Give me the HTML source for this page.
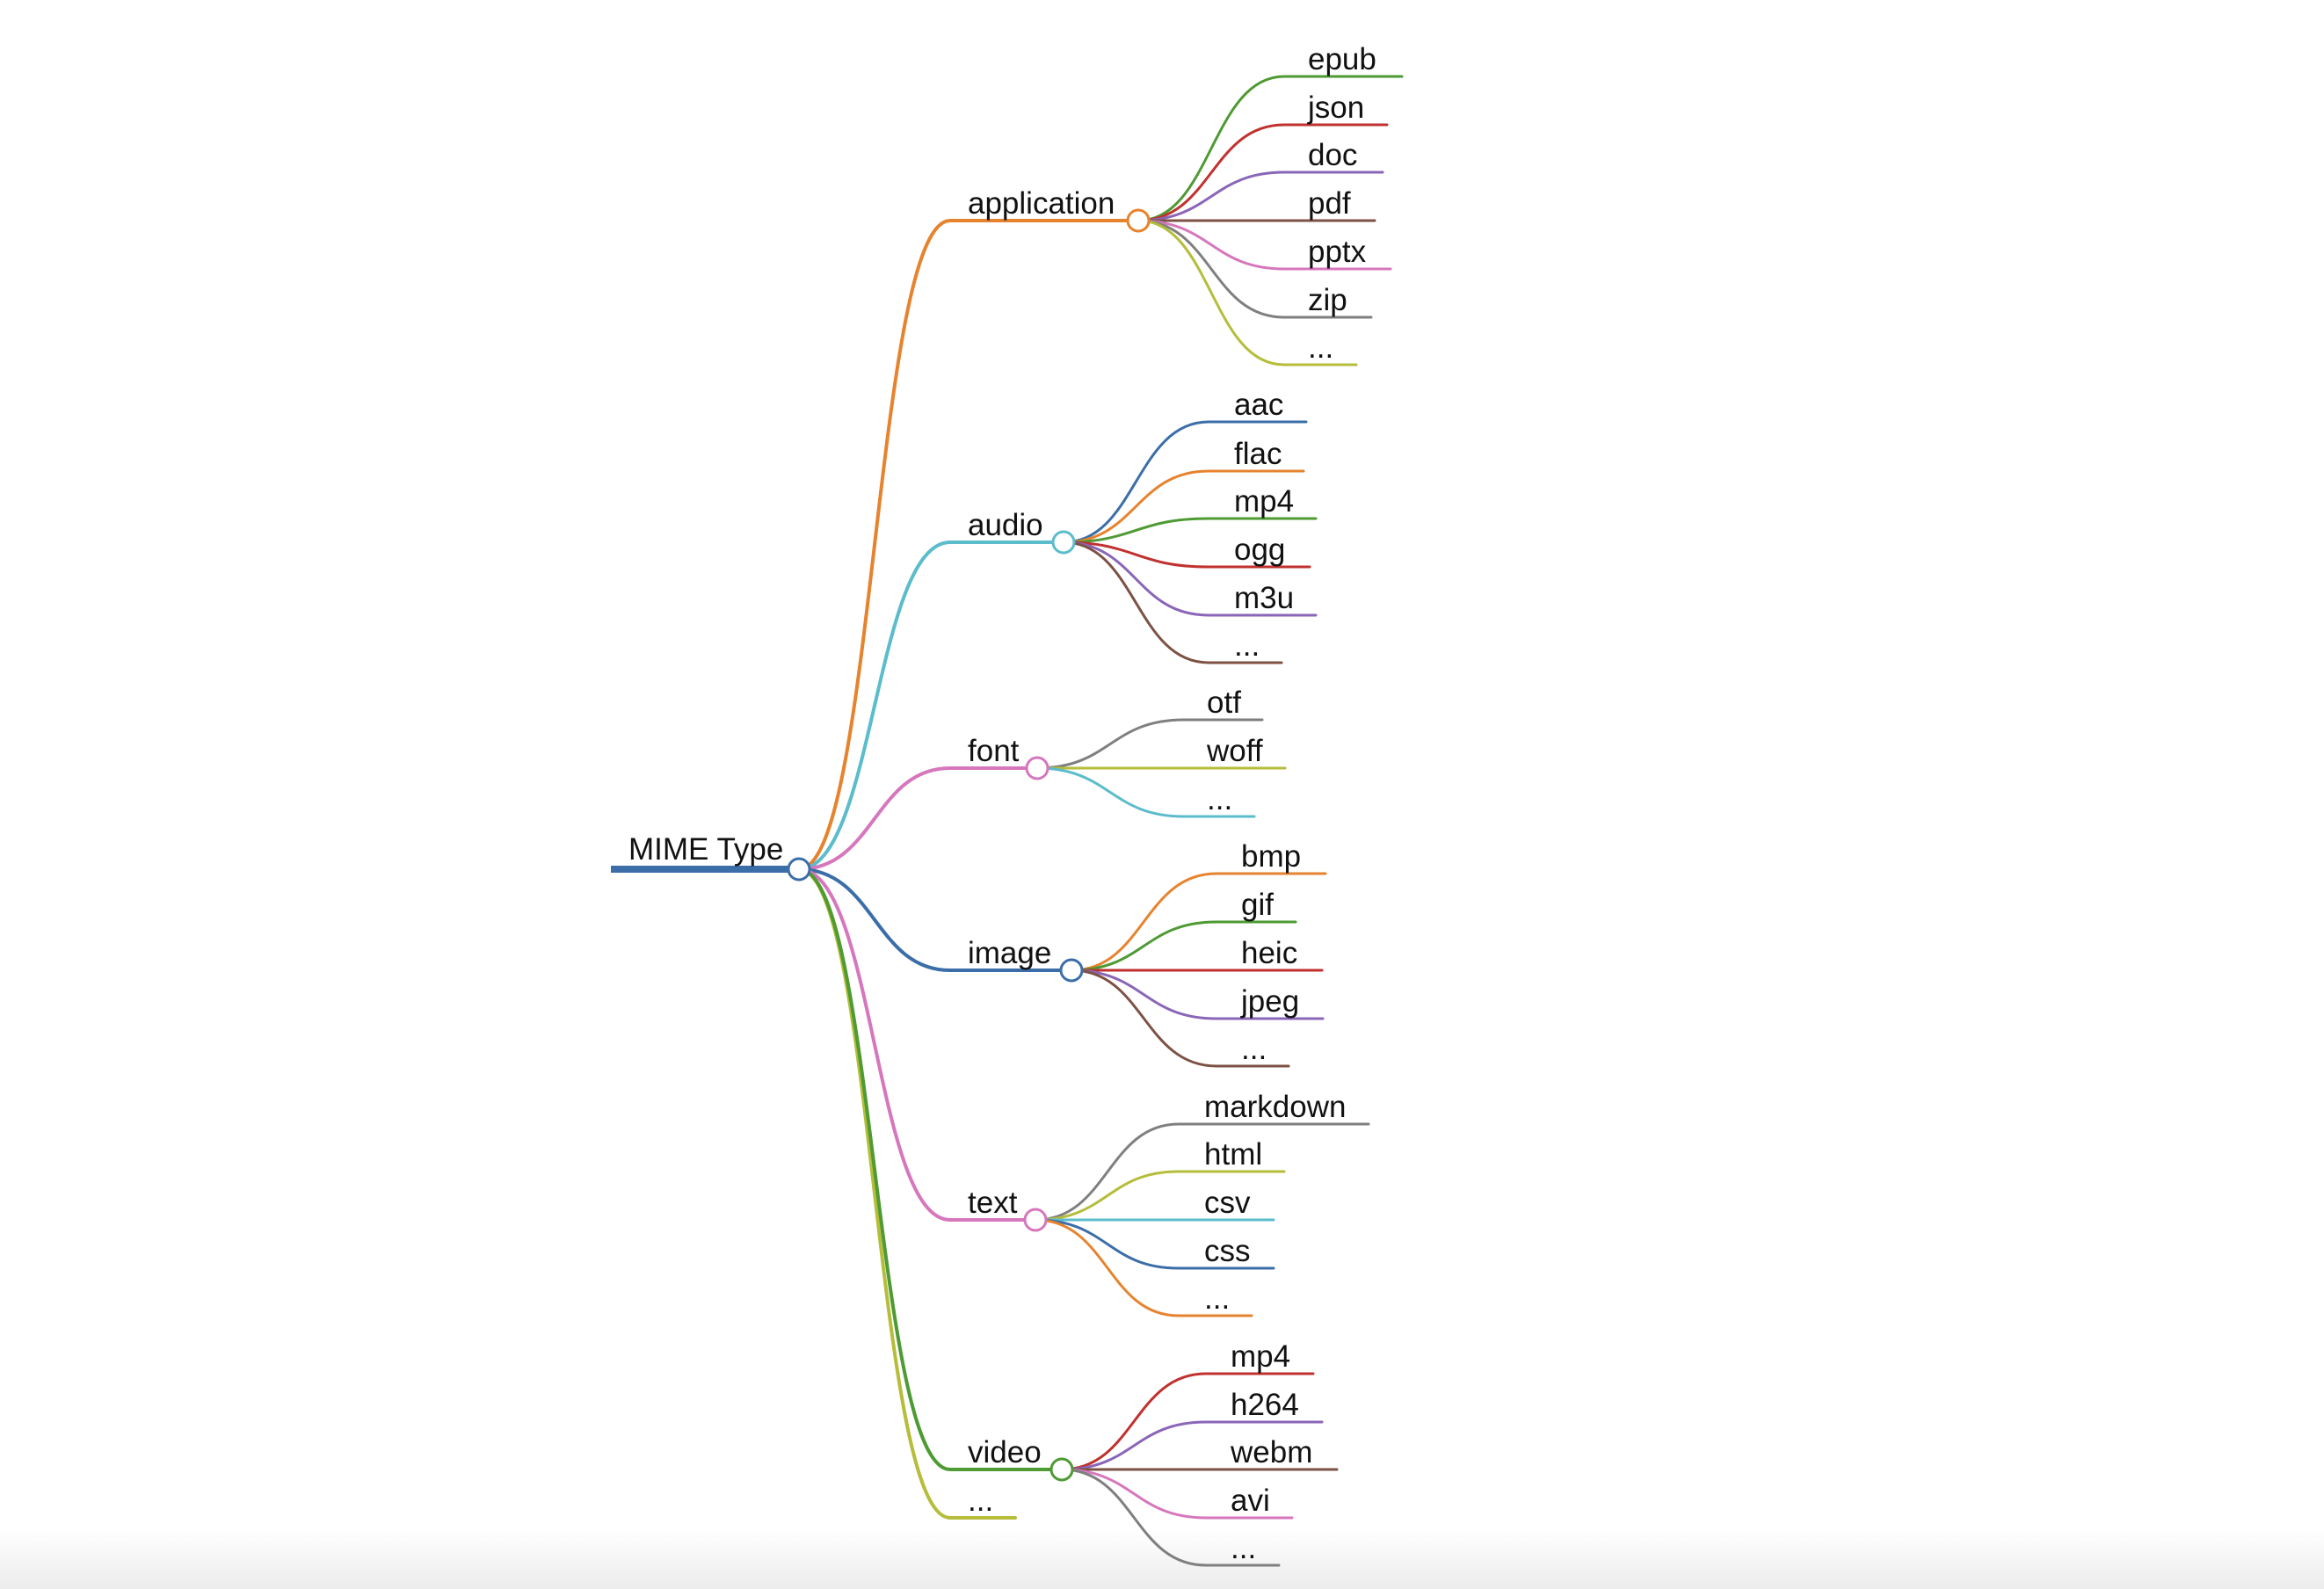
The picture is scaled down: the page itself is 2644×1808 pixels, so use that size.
<!DOCTYPE html>
<html><head><meta charset="utf-8"><style>
html,body{margin:0;padding:0;background:#fff;}
svg{display:block;}
text{font-family:"Liberation Sans",sans-serif;font-size:35px;fill:#111;}
</style></head><body>
<svg width="2644" height="1808" viewBox="0 0 2644 1808" xmlns="http://www.w3.org/2000/svg">
<defs><linearGradient id="bg" x1="0" y1="0" x2="0" y2="1"><stop offset="0" stop-color="#fff"/><stop offset="1" stop-color="#ececec"/></linearGradient></defs>
<rect x="0" y="1740" width="2644" height="68" fill="url(#bg)"/>
<g fill="none" stroke-linecap="round">
<g stroke-width="4">
<path d="M909 989 C995 989 995 251 1081 251 H1295" stroke="#e6832e"/>
<path d="M909 989 C995 989 995 617 1081 617 H1210" stroke="#5bbccc"/>
<path d="M909 989 C995 989 995 874 1081 874 H1180" stroke="#d677bd"/>
<path d="M909 989 C995 989 995 1104 1081 1104 H1219" stroke="#3b6ea8"/>
<path d="M909 989 C995 989 995 1388 1081 1388 H1178" stroke="#d677bd"/>
<path d="M909 989 C995 989 995 1727 1081 1727 H1155" stroke="#b5bd3a"/>
<path d="M909 989 C995 989 995 1672 1081 1672 H1208" stroke="#4e9a33"/>
</g>
<g stroke-width="3">
<path d="M1295 251 C1378 251 1378 87 1461 87 H1595" stroke="#4e9a33"/>
<path d="M1295 251 C1378 251 1378 142 1461 142 H1578" stroke="#c0312f"/>
<path d="M1295 251 C1378 251 1378 196 1461 196 H1573" stroke="#8a66b8"/>
<path d="M1295 251 H1564" stroke="#7d5245"/>
<path d="M1295 251 C1378 251 1378 306 1461 306 H1582" stroke="#d677bd"/>
<path d="M1295 251 C1378 251 1378 361 1461 361 H1560" stroke="#7f7f7f"/>
<path d="M1295 251 C1378 251 1378 415 1461 415 H1543" stroke="#b5bd3a"/>
<path d="M1210 617 C1292 617 1292 480 1375 480 H1486" stroke="#3b6ea8"/>
<path d="M1210 617 C1292 617 1292 536 1375 536 H1483" stroke="#e6832e"/>
<path d="M1210 617 C1292 617 1292 590 1375 590 H1497" stroke="#4e9a33"/>
<path d="M1210 617 C1292 617 1292 645 1375 645 H1490" stroke="#c0312f"/>
<path d="M1210 617 C1292 617 1292 700 1375 700 H1497" stroke="#8a66b8"/>
<path d="M1210 617 C1292 617 1292 754 1375 754 H1458" stroke="#7d5245"/>
<path d="M1180 874 C1263 874 1263 819 1347 819 H1436" stroke="#7f7f7f"/>
<path d="M1180 874 H1462" stroke="#b5bd3a"/>
<path d="M1180 874 C1263 874 1263 929 1347 929 H1427" stroke="#5bbccc"/>
<path d="M1219 1104 C1301 1104 1301 994 1384 994 H1508" stroke="#e6832e"/>
<path d="M1219 1104 C1301 1104 1301 1049 1384 1049 H1474" stroke="#4e9a33"/>
<path d="M1219 1104 H1504" stroke="#c0312f"/>
<path d="M1219 1104 C1301 1104 1301 1159 1384 1159 H1505" stroke="#8a66b8"/>
<path d="M1219 1104 C1301 1104 1301 1213 1384 1213 H1466" stroke="#7d5245"/>
<path d="M1178 1388 C1260 1388 1260 1279 1341 1279 H1557" stroke="#7f7f7f"/>
<path d="M1178 1388 C1260 1388 1260 1333 1341 1333 H1461" stroke="#b5bd3a"/>
<path d="M1178 1388 H1449" stroke="#5bbccc"/>
<path d="M1178 1388 C1260 1388 1260 1443 1341 1443 H1449" stroke="#3b6ea8"/>
<path d="M1178 1388 C1260 1388 1260 1497 1341 1497 H1424" stroke="#e6832e"/>
<path d="M1208 1672 C1290 1672 1290 1563 1372 1563 H1494" stroke="#c0312f"/>
<path d="M1208 1672 C1290 1672 1290 1618 1372 1618 H1504" stroke="#8a66b8"/>
<path d="M1208 1672 H1521" stroke="#7d5245"/>
<path d="M1208 1672 C1290 1672 1290 1727 1372 1727 H1470" stroke="#d677bd"/>
<path d="M1208 1672 C1290 1672 1290 1781 1372 1781 H1455" stroke="#7f7f7f"/>
</g>
<path d="M695 989 H909" stroke="#3b6ea8" stroke-width="8" stroke-linecap="butt"/>
</g>
<g fill="#fff" stroke-width="3">
<circle cx="909" cy="989" r="12" stroke="#3b6ea8"/>
<circle cx="1295" cy="251" r="12" stroke="#e6832e"/>
<circle cx="1210" cy="617" r="12" stroke="#5bbccc"/>
<circle cx="1180" cy="874" r="12" stroke="#d677bd"/>
<circle cx="1219" cy="1104" r="12" stroke="#3b6ea8"/>
<circle cx="1178" cy="1388" r="12" stroke="#d677bd"/>
<circle cx="1208" cy="1672" r="12" stroke="#4e9a33"/>
</g>
<g>
<text x="715" y="978">MIME Type</text>
<text x="1101" y="243">application</text>
<text x="1101" y="609">audio</text>
<text x="1101" y="866">font</text>
<text x="1101" y="1096">image</text>
<text x="1101" y="1380">text</text>
<text x="1101" y="1664">video</text>
<text x="1101" y="1719">...</text>

<text x="1488" y="79">epub</text>
<text x="1488" y="134">json</text>
<text x="1488" y="188">doc</text>
<text x="1488" y="243">pdf</text>
<text x="1488" y="298">pptx</text>
<text x="1488" y="353">zip</text>
<text x="1488" y="407">...</text>

<text x="1404" y="472">aac</text>
<text x="1404" y="528">flac</text>
<text x="1404" y="582">mp4</text>
<text x="1404" y="637">ogg</text>
<text x="1404" y="692">m3u</text>
<text x="1404" y="746">...</text>

<text x="1373" y="811">otf</text>
<text x="1373" y="866">woff</text>
<text x="1373" y="921">...</text>

<text x="1412" y="986">bmp</text>
<text x="1412" y="1041">gif</text>
<text x="1412" y="1096">heic</text>
<text x="1412" y="1151">jpeg</text>
<text x="1412" y="1205">...</text>

<text x="1370" y="1271">markdown</text>
<text x="1370" y="1325">html</text>
<text x="1370" y="1380">csv</text>
<text x="1370" y="1435">css</text>
<text x="1370" y="1489">...</text>

<text x="1400" y="1555">mp4</text>
<text x="1400" y="1610">h264</text>
<text x="1400" y="1664">webm</text>
<text x="1400" y="1719">avi</text>
<text x="1400" y="1773">...</text>
</g>
</svg>
</body></html>
